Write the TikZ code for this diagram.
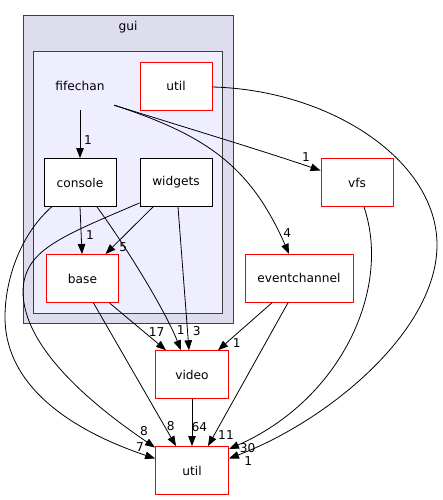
\documentclass[tikz,border=0pt]{standalone}
\usepackage{fontspec}
\setmainfont{DejaVu Sans}
\usetikzlibrary{arrows.meta}
\definecolor{clusterouter}{HTML}{DDDDEE}
\definecolor{clusterinner}{HTML}{EEEEFF}
\definecolor{clusterline}{HTML}{404040}
\begin{document}
\begin{tikzpicture}[x=1pt,y=-1pt,
  every node/.style={font=\fontsize{12.2}{14}\selectfont, inner sep=0pt},
  dirbox/.style={draw=red, fill=white, line width=0.9pt, minimum width=72pt, minimum height=48pt},
  plainbox/.style={draw=black, fill=white, line width=0.9pt, minimum width=72pt, minimum height=48pt},
  dep/.style={draw=black, line width=0.8pt, -{Triangle[length=10pt,width=7.5pt]}},
  lbl/.style={font=\fontsize{12.2}{14}\selectfont}
]
\useasboundingbox (0,0) rectangle (443,500);
% clusters
\draw[fill=clusterouter, draw=clusterline, line width=1pt] (23,16) rectangle (233,323);
\node (guilabel) at (128,27) {gui};
\draw[fill=clusterinner, draw=clusterline, line width=1pt] (33.5,52) rectangle (222.5,313);
% nodes
\node[minimum width=72pt, minimum height=48pt] (fifechan) at (80,86) {fifechan};
\node[dirbox] (gutil) at (176,86) {util};
\node[plainbox] (console) at (80,182.5) {console};
\node[plainbox] (widgets) at (176,182.5) {widgets};
\node[dirbox] (base) at (82.5,278.5) {base};
\node[dirbox, minimum width=73pt] (video) at (192,374.7) {video};
\node[dirbox, minimum width=73pt] (util) at (192,470.5) {util};
\node[dirbox] (vfs) at (357,182.5) {vfs};
\node[dirbox, minimum width=108pt] (eventchannel) at (299,278.3) {eventchannel};
\coordinate (fstart) at ([xshift=-2pt,yshift=5pt]fifechan.south east);
% edges
\draw[dep] (fifechan.south) -- (console.north);
\node[lbl] (l1) at (88,140) {1};
\draw[dep] (fstart) .. controls (200,132) and (260,150) .. ([yshift=12pt]vfs.west);
\node[lbl] (l2) at (306,156.7) {1};
\draw[dep] (fstart) .. controls (205,135) and (250,165) .. ([xshift=-10pt]eventchannel.north);
\node[lbl] (l3) at (287.3,233.3) {4};
\draw[dep] ([yshift=-1pt]gutil.east) .. controls (330,90) and (437,160) .. (437,245) .. controls (437,330) and (330,420) .. ([yshift=12pt]util.east);
\node[lbl] (l4) at (248.3,460.7) {1};
\draw[dep] ([xshift=7pt]vfs.south) .. controls (392,290) and (340,400) .. ([yshift=-3pt]util.north east);
\node[lbl] (l5) at (247.7,448.3) {30};
\draw[dep] (console.south) -- ([xshift=-0.5pt]base.north);
\node[lbl] (l6) at (90,235) {1};
\draw[dep] ([xshift=-23pt]widgets.south) -- ([xshift=23pt]base.north);
\node[lbl] (l7) at (123.3,247.3) {5};
\draw[dep] ([xshift=17pt]console.south) .. controls (125,245) and (165,310) .. ([xshift=-11pt]video.north);
\node[lbl] (l8) at (180.7,330) {1};
\draw[dep] ([xshift=2pt]widgets.south) -- ([xshift=-3pt]video.north);
\node[lbl] (l9) at (196.7,330.7) {3};
\draw[dep] ([xshift=27pt]base.south) -- ([xshift=-26pt]video.north);
\node[lbl] (l10) at (156.7,331.7) {17};
\draw[dep] ([xshift=-27pt]eventchannel.south) -- ([xshift=26pt]video.north);
\node[lbl] (l11) at (236.7,343.3) {1};
\draw[dep] ([xshift=-11pt]eventchannel.south) -- ([xshift=16pt]util.north);
\node[lbl] (l12) at (226,435) {11};
\draw[dep] (video.south) -- (util.north);
\node[lbl] (l13) at (199.3,427.3) {64};
\draw[dep] ([xshift=11pt]base.south) -- ([xshift=-16pt]util.north);
\node[lbl] (l14) at (170.7,426) {8};
\draw[dep] ([yshift=4pt]widgets.south west) .. controls (60,237) and (25,250) .. (23,290) .. controls (22,350) and (100,410) .. ([yshift=-1.5pt]util.north west);
\node[lbl] (l15) at (144,430.7) {8};
\draw[dep] ([xshift=8pt]console.south west) .. controls (20,235) and (5,280) .. (5,317) .. controls (5,400) and (100,440) .. ([yshift=12pt]util.west);
\node[lbl] (l16) at (140,446.7) {7};
\end{tikzpicture}
\end{document}
